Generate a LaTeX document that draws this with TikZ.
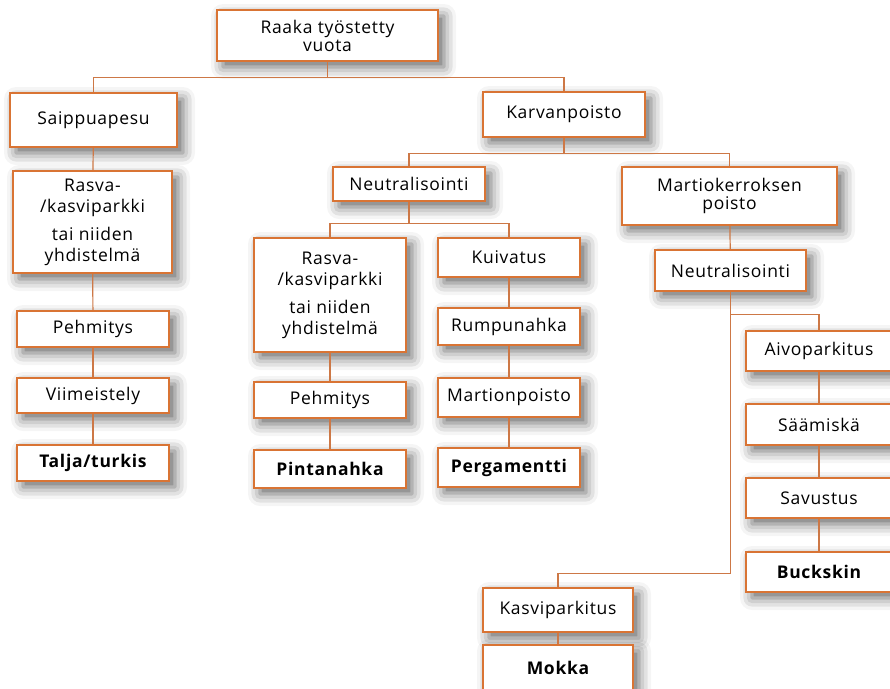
\documentclass[tikz,border=0pt]{standalone}
\usepackage{fontspec}
\setmainfont{Open Sans}[LetterSpace=4]
\usepackage{tikz}
\usetikzlibrary{shadows.blur,positioning}
\definecolor{nahka}{RGB}{217,116,52}
\definecolor{viiva}{RGB}{205,120,70}

\begin{document}
\begin{tikzpicture}[x=1pt,y=-1pt,
                box/.style={draw=nahka,line width=2.2pt,fill=white,inner sep=2pt,
                  align=center,font=\fontsize{17.5}{21}\selectfont,
                  blur shadow={shadow xshift=6pt,shadow yshift=-6pt,shadow blur radius=12pt,shadow opacity=60}},
                prod/.style={box,font=\fontsize{17.5}{21}\selectfont\bfseries},
                link/.style={draw=viiva,line width=1.2pt}]
            \useasboundingbox (0,0) rectangle (890,688);
            % ylin taso
            \node [box,minimum width=221pt,minimum height=51pt] (root)  at (327.5,35.5) {Raaka työstetty\\[-3pt]vuota};
            \node [box,minimum width=167pt,minimum height=54pt] (saip)  at (93.5,120)   {Saippuapesu};
            \node [box,minimum width=162pt,minimum height=45pt] (karv)  at (564,114.5)  {Karvanpoisto};
            % vasen haara
            \node [box,minimum width=159pt,minimum height=102pt] (rasvaA) at (92.5,222) {Rasva-\\/kasviparkki\\[7pt]tai niiden\\yhdistelmä};
            \node [box,minimum width=152pt,minimum height=36pt] (pehA)  at (93,329)    {Pehmitys};
            \node [box,minimum width=152pt,minimum height=35pt] (viim)  at (93,395.5)  {Viimeistely};
            \node [prod,minimum width=152pt,minimum height=36pt] (talja) at (93,463)   {Talja/turkis};
            % keskihaara
            \node [box,minimum width=152pt,minimum height=34pt] (neutA) at (409,184)   {Neutralisointi};
            \node [box,minimum width=152pt,minimum height=114pt] (rasvaB) at (330,295) {Rasva-\\/kasviparkki\\[7pt]tai niiden\\yhdistelmä};
            \node [box,minimum width=152pt,minimum height=36pt] (pehB)  at (330,400)   {Pehmitys};
            \node [prod,minimum width=152pt,minimum height=38pt] (pinta) at (330,469)  {Pintanahka};
            \node [box,minimum width=142pt,minimum height=39pt] (kuiv)  at (509,257.5) {Kuivatus};
            \node [box,minimum width=142pt,minimum height=37pt] (rump)  at (509,326.5) {Rumpunahka};
            \node [box,minimum width=142pt,minimum height=39pt] (martp) at (509,397.5) {Martionpoisto};
            \node [prod,minimum width=142pt,minimum height=39pt] (perg) at (509,467.5) {Pergamentti};
            % oikea haara
            \node [box,minimum width=215pt,minimum height=58pt] (mart)  at (729.5,196)  {Martiokerroksen\\[-3pt]poisto};
            \node [box,minimum width=151pt,minimum height=41pt] (neutB) at (730.5,270.5) {Neutralisointi};
            \node [box,minimum width=146pt,minimum height=40pt] (aivo)  at (819,351)   {Aivoparkitus};
            \node [box,minimum width=146pt,minimum height=41pt] (saam)  at (819,424.5) {Säämiskä};
            \node [box,minimum width=146pt,minimum height=40pt] (savu)  at (819,498)   {Savustus};
            \node [prod,minimum width=146pt,minimum height=40pt] (buck) at (819,572)   {Buckskin};
            \node [box,minimum width=150pt,minimum height=44pt] (kasvi) at (558,610)   {Kasviparkitus};
            \node [prod,minimum width=150pt,minimum height=45pt] (mokka) at (558,667.5) {Mokka};
            % yhteydet
            \draw [link] (root.south) -- ++(0,15) coordinate (b1);
            \draw [link] (b1) -| (saip.north);
            \draw [link] (b1) -| (karv.north);
            \draw [link] (saip) -- (rasvaA);
            \draw [link] (rasvaA) -- (pehA);
            \draw [link] (pehA) -- (viim);
            \draw [link] (viim) -- (talja);
            \draw [link] (karv.south) -- ++(0,15) coordinate (b2);
            \draw [link] (b2) -| (neutA.north);
            \draw [link] (b2) -| (mart.north);
            \draw [link] (neutA.south) -- ++(0,21) coordinate (b3);
            \draw [link] (b3) -| (rasvaB.north);
            \draw [link] (b3) -| (kuiv.north);
            \draw [link] (rasvaB) -- (pehB);
            \draw [link] (pehB) -- (pinta);
            \draw [link] (kuiv) -- (rump);
            \draw [link] (rump) -- (martp);
            \draw [link] (martp) -- (perg);
            \draw [link] (mart) -- (neutB);
            \draw [link] (neutB.south) -- ++(0,22) coordinate (b4);
            \draw [link] (b4) -| (aivo.north);
            \draw [link] (b4) -- ++(0,259) coordinate (b5);
            \draw [link] (b5) -| (kasvi.north);
            \draw [link] (aivo) -- (saam);
            \draw [link] (saam) -- (savu);
            \draw [link] (savu) -- (buck);
            \draw [link] (kasvi) -- (mokka);
        \end{tikzpicture}
\end{document}
